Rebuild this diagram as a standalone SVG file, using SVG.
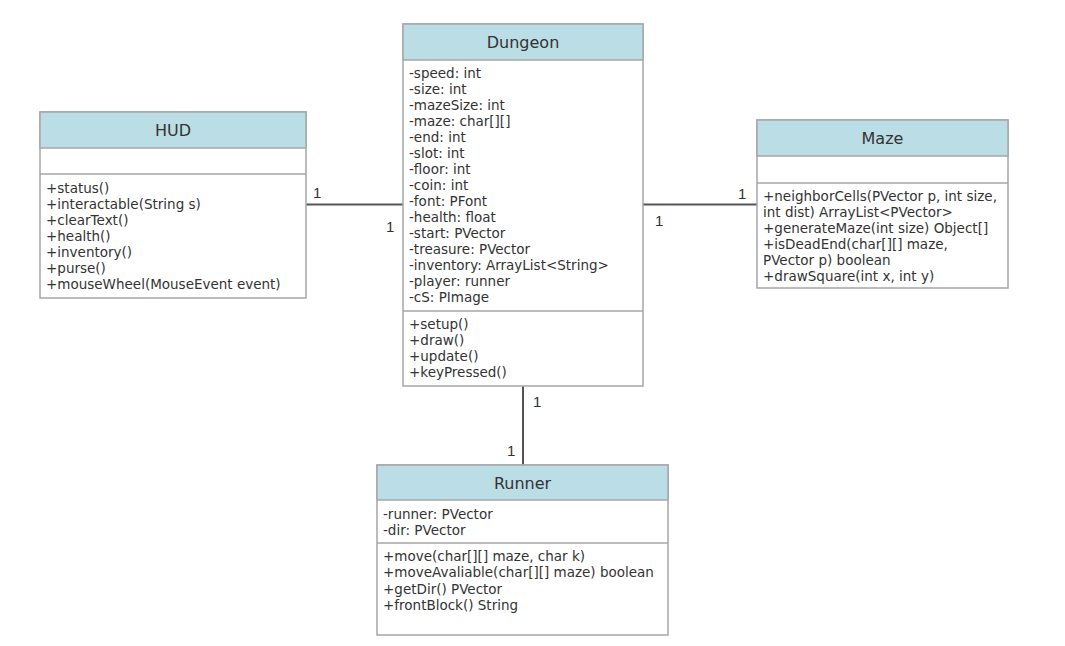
<svg xmlns="http://www.w3.org/2000/svg" width="1065" height="646" viewBox="0 0 1065 646">
<style>
.box{fill:#ffffff;stroke:#a6a6a6;stroke-width:1.5}
.hdr{fill:#bbdde6;stroke:#a6a6a6;stroke-width:1.5}
.sep{stroke:#a6a6a6;stroke-width:1.5}
.title{font-family:"DejaVu Sans",Verdana,sans-serif;font-size:16px;fill:#333333;text-anchor:middle}
.m{font-family:"DejaVu Sans",Verdana,sans-serif;font-size:13.5px;fill:#333333}
.conn{stroke:#555555;stroke-width:2;fill:none}
.mult{font-family:"Liberation Sans",Arial,sans-serif;font-size:15px;fill:#333333}
</style>
<rect width="1065" height="646" fill="#ffffff"/>
<g id="connectors">
<line class="conn" x1="306" y1="204.5" x2="403" y2="204.5"/>
<line class="conn" x1="643" y1="204.5" x2="757" y2="204.5"/>
<line class="conn" x1="523" y1="386" x2="523" y2="465"/>
<text class="mult" x="313" y="198">1</text>
<text class="mult" x="386" y="232">1</text>
<text class="mult" x="738" y="199">1</text>
<text class="mult" x="655" y="226">1</text>
<text class="mult" x="533" y="407">1</text>
<text class="mult" x="507" y="456">1</text>
</g>
<g id="dungeon">
<rect class="box" x="403" y="24" width="240" height="362"/>
<rect class="hdr" x="403" y="24" width="240" height="36"/>
<line class="sep" x1="403" y1="311" x2="643" y2="311"/>
<text class="title" x="523" y="48">Dungeon</text>
<text class="m" x="409" y="78">-speed: int</text>
<text class="m" x="409" y="94">-size: int</text>
<text class="m" x="409" y="110">-mazeSize: int</text>
<text class="m" x="409" y="126">-maze: char[][]</text>
<text class="m" x="409" y="142">-end: int</text>
<text class="m" x="409" y="158">-slot: int</text>
<text class="m" x="409" y="174">-floor: int</text>
<text class="m" x="409" y="190">-coin: int</text>
<text class="m" x="409" y="206">-font: PFont</text>
<text class="m" x="409" y="222">-health: float</text>
<text class="m" x="409" y="238">-start: PVector</text>
<text class="m" x="409" y="254">-treasure: PVector</text>
<text class="m" x="409" y="270">-inventory: ArrayList&lt;String&gt;</text>
<text class="m" x="409" y="286">-player: runner</text>
<text class="m" x="409" y="302">-cS: PImage</text>
<text class="m" x="409" y="329">+setup()</text>
<text class="m" x="409" y="345">+draw()</text>
<text class="m" x="409" y="361">+update()</text>
<text class="m" x="409" y="377">+keyPressed()</text>
</g>
<g id="hud">
<rect class="box" x="40" y="112" width="266" height="186"/>
<rect class="hdr" x="40" y="112" width="266" height="36"/>
<line class="sep" x1="40" y1="174" x2="306" y2="174"/>
<text class="title" x="173" y="136">HUD</text>
<text class="m" x="46" y="193">+status()</text>
<text class="m" x="46" y="209">+interactable(String s)</text>
<text class="m" x="46" y="225">+clearText()</text>
<text class="m" x="46" y="241">+health()</text>
<text class="m" x="46" y="257">+inventory()</text>
<text class="m" x="46" y="273">+purse()</text>
<text class="m" x="46" y="289">+mouseWheel(MouseEvent event)</text>
</g>
<g id="maze">
<rect class="box" x="757" y="120" width="251" height="168"/>
<rect class="hdr" x="757" y="120" width="251" height="36"/>
<line class="sep" x1="757" y1="183" x2="1008" y2="183"/>
<text class="title" x="882.5" y="144">Maze</text>
<text class="m" x="763" y="201">+neighborCells(PVector p, int size,</text>
<text class="m" x="763" y="217">int dist) ArrayList&lt;PVector&gt;</text>
<text class="m" x="763" y="233">+generateMaze(int size) Object[]</text>
<text class="m" x="763" y="249">+isDeadEnd(char[][] maze,</text>
<text class="m" x="763" y="265">PVector p) boolean</text>
<text class="m" x="763" y="281">+drawSquare(int x, int y)</text>
</g>
<g id="runner">
<rect class="box" x="377" y="465" width="291" height="170"/>
<rect class="hdr" x="377" y="465" width="291" height="35"/>
<line class="sep" x1="377" y1="543" x2="668" y2="543"/>
<text class="title" x="522.5" y="489">Runner</text>
<text class="m" x="383" y="519">-runner: PVector</text>
<text class="m" x="383" y="535">-dir: PVector</text>
<text class="m" x="383" y="561">+move(char[][] maze, char k)</text>
<text class="m" x="383" y="577">+moveAvaliable(char[][] maze) boolean</text>
<text class="m" x="383" y="594">+getDir() PVector</text>
<text class="m" x="383" y="610">+frontBlock() String</text>
</g>
</svg>
